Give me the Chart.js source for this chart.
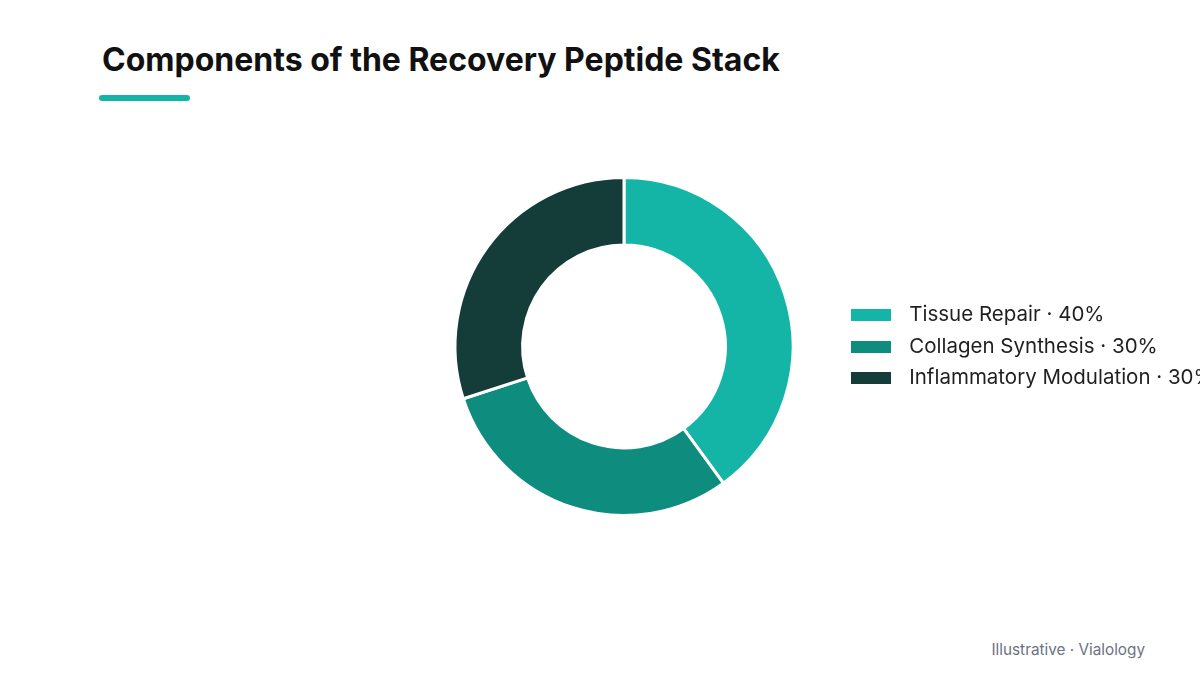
<!DOCTYPE html>
<html lang="en">
<head>
  <meta charset="UTF-8" />
  <title>Components of the Recovery Peptide Stack</title>
  <script src="https://cdn.jsdelivr.net/npm/chart.js@4.4.1/dist/chart.umd.min.js"></script>
  <style>
    html, body { margin: 0; padding: 0; width: 1200px; height: 675px; overflow: hidden; background: #fff; }
    body { position: relative; font-family: Inter, "Noto Sans", sans-serif; }
    h1 { position: absolute; left: 102px; top: 40px; margin: 0; font-size: 32px; line-height: 40px; font-weight: 700; color: #111; letter-spacing: 0; }
    .accent { position: absolute; left: 99px; top: 95px; width: 91px; height: 6px; border-radius: 3px; background: #14b5a7; }
    .wrap { position: absolute; left: 416px; top: 176px; width: 784px; height: 341px; }
    .note { position: absolute; right: 55px; top: 640px; font-size: 15.3px; color: #6b7280; }
  </style>
</head>
<body>
  <h1>Components of the Recovery Peptide Stack</h1>
  <div class="accent"></div>
  <div class="wrap"><canvas id="chart"></canvas></div>
  <div class="note">Illustrative · Vialology</div>
  <script>
    const categories = ['Tissue Repair', 'Collagen Synthesis', 'Inflammatory Modulation']
    const shares = [40, 30, 30]
    const colors = ['#14b5a7', '#0e8c7e', '#143d3a']

    // legend swatch: 40x12 box, drawn as a point style so the text sits a bit further right
    function swatch(color) {
      const c = document.createElement('canvas')
      c.width = 40
      c.height = 12
      const g = c.getContext('2d')
      g.fillStyle = color
      g.fillRect(0, 0, 40, 12)
      return c
    }
    const swatches = colors.map(swatch)

    new Chart(document.getElementById('chart'), {
      type: 'doughnut',
      data: {
        labels: categories.map((c, i) => `${c} · ${shares[i]}%`),
        datasets: [{
          data: shares,
          backgroundColor: colors,
          borderColor: '#ffffff',
          borderWidth: 3,
        }],
      },
      options: {
        responsive: true,
        maintainAspectRatio: false,
        devicePixelRatio: 1,
        animation: false,
        cutout: '60%',
        layout: { padding: 0 },
        plugins: {
          tooltip: { enabled: false },
          legend: {
            position: 'right',
            maxWidth: 368,
            labels: {
              color: '#1f1f1f',
              font: { family: 'Inter', size: 20.5 },
              usePointStyle: true,
              pointStyleWidth: 56,
              padding: 11,
              generateLabels(chart) {
                const items = Chart.overrides.doughnut.plugins.legend.labels.generateLabels(chart)
                return items.map((it, i) => ({ ...it, pointStyle: swatches[i] }))
              },
            },
          },
        },
      },
    })
  </script>
</body>
</html>
